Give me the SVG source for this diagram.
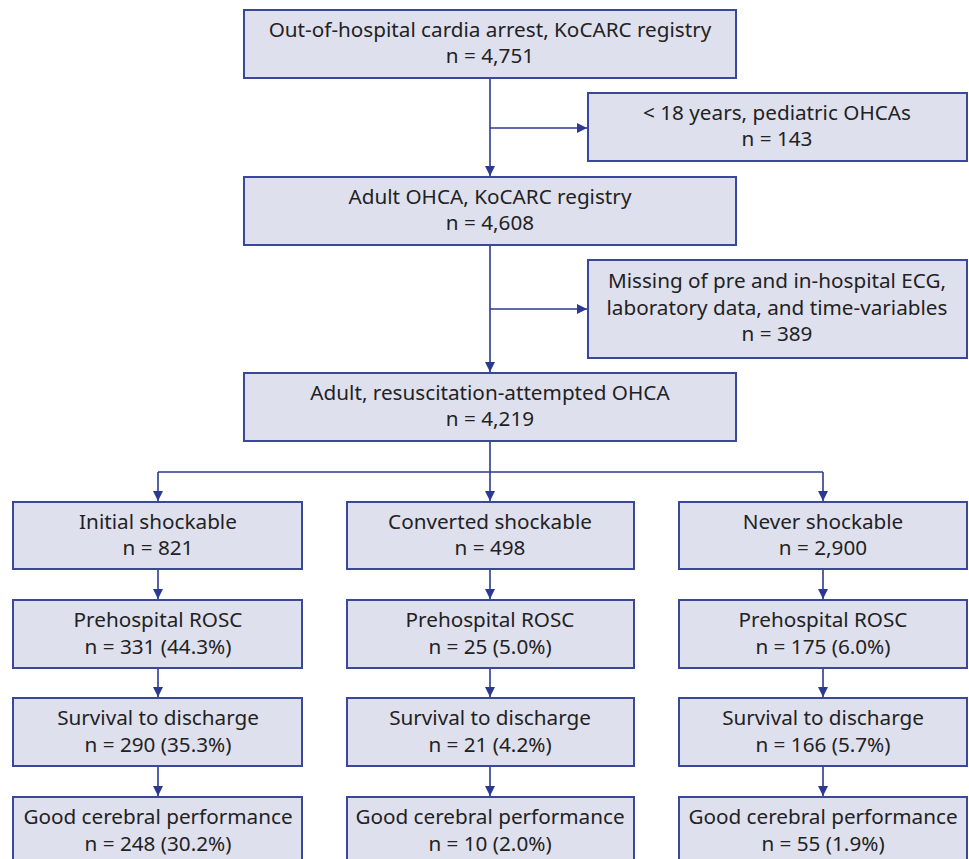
<svg xmlns="http://www.w3.org/2000/svg" width="969" height="859" viewBox="0 0 969 859">
<defs>
<marker id="ah" markerWidth="10" markerHeight="10" refX="10" refY="5" orient="auto" markerUnits="userSpaceOnUse">
<path d="M0,0 L10,5 L0,10 Z" fill="#2b3990"/>
</marker>
<style>
.box{fill:#dfe0ee;stroke:#3b479b;stroke-width:2}
.t{font-family:"Noto Sans","Liberation Sans",sans-serif;font-size:20.7px;fill:#222;text-anchor:middle}
.c{fill:none;stroke:#2b3990;stroke-width:1.6}
</style>
</defs>
<rect width="969" height="859" fill="#fff"/>
<g id="connectors">
<path class="c" d="M490,78 V176" marker-end="url(#ah)"/>
<path class="c" d="M490,128 H587" marker-end="url(#ah)"/>
<path class="c" d="M490,245 V372" marker-end="url(#ah)"/>
<path class="c" d="M490,309 H587" marker-end="url(#ah)"/>
<path class="c" d="M490,441 V501" marker-end="url(#ah)"/>
<path class="c" d="M158,472 H823"/>
<path class="c" d="M158,472 V501" marker-end="url(#ah)"/>
<path class="c" d="M823,472 V501" marker-end="url(#ah)"/>
<path class="c" d="M158,569 V599" marker-end="url(#ah)"/>
<path class="c" d="M490,569 V599" marker-end="url(#ah)"/>
<path class="c" d="M823,569 V599" marker-end="url(#ah)"/>
<path class="c" d="M158,668 V697" marker-end="url(#ah)"/>
<path class="c" d="M490,668 V697" marker-end="url(#ah)"/>
<path class="c" d="M823,668 V697" marker-end="url(#ah)"/>
<path class="c" d="M158,766 V796" marker-end="url(#ah)"/>
<path class="c" d="M490,766 V796" marker-end="url(#ah)"/>
<path class="c" d="M823,766 V796" marker-end="url(#ah)"/>
</g>
<g id="n-all">
<rect class="box" x="244" y="10" width="492" height="68"/>
<text class="t" x="490" y="37">Out-of-hospital cardia arrest, KoCARC registry</text>
<text class="t" x="490" y="63">n = 4,751</text>
</g>
<g id="n-pediatric">
<rect class="box" x="588" y="93" width="379" height="68"/>
<text class="t" x="777" y="120">&lt; 18 years, pediatric OHCAs</text>
<text class="t" x="777" y="146">n = 143</text>
</g>
<g id="n-adult">
<rect class="box" x="244" y="177" width="492" height="68"/>
<text class="t" x="490" y="204">Adult OHCA, KoCARC registry</text>
<text class="t" x="490" y="230">n = 4,608</text>
</g>
<g id="n-missing">
<rect class="box" x="588" y="260" width="379" height="98"/>
<text class="t" x="777" y="288">Missing of pre and in-hospital ECG,</text>
<text class="t" x="777" y="315">laboratory data, and time-variables</text>
<text class="t" x="777" y="341">n = 389</text>
</g>
<g id="n-resus">
<rect class="box" x="244" y="373" width="492" height="68"/>
<text class="t" x="490" y="400">Adult, resuscitation-attempted OHCA</text>
<text class="t" x="490" y="426">n = 4,219</text>
</g>
<g id="n-initial">
<rect class="box" x="13" y="502" width="289" height="67"/>
<text class="t" x="158" y="529">Initial shockable</text>
<text class="t" x="158" y="555">n = 821</text>
</g>
<g id="n-converted">
<rect class="box" x="347" y="502" width="287" height="67"/>
<text class="t" x="490" y="529">Converted shockable</text>
<text class="t" x="490" y="555">n = 498</text>
</g>
<g id="n-never">
<rect class="box" x="679" y="502" width="288" height="67"/>
<text class="t" x="823" y="529">Never shockable</text>
<text class="t" x="823" y="555">n = 2,900</text>
</g>
<g id="n-rosc1">
<rect class="box" x="13" y="600" width="289" height="68"/>
<text class="t" x="158" y="627">Prehospital ROSC</text>
<text class="t" x="158" y="654">n = 331 (44.3%)</text>
</g>
<g id="n-rosc2">
<rect class="box" x="347" y="600" width="287" height="68"/>
<text class="t" x="490" y="627">Prehospital ROSC</text>
<text class="t" x="490" y="654">n = 25 (5.0%)</text>
</g>
<g id="n-rosc3">
<rect class="box" x="679" y="600" width="288" height="68"/>
<text class="t" x="823" y="627">Prehospital ROSC</text>
<text class="t" x="823" y="654">n = 175 (6.0%)</text>
</g>
<g id="n-surv1">
<rect class="box" x="13" y="698" width="289" height="68"/>
<text class="t" x="158" y="725">Survival to discharge</text>
<text class="t" x="158" y="752">n = 290 (35.3%)</text>
</g>
<g id="n-surv2">
<rect class="box" x="347" y="698" width="287" height="68"/>
<text class="t" x="490" y="725">Survival to discharge</text>
<text class="t" x="490" y="752">n = 21 (4.2%)</text>
</g>
<g id="n-surv3">
<rect class="box" x="679" y="698" width="288" height="68"/>
<text class="t" x="823" y="725">Survival to discharge</text>
<text class="t" x="823" y="752">n = 166 (5.7%)</text>
</g>
<g id="n-good1">
<rect class="box" x="13" y="797" width="289" height="68"/>
<text class="t" x="158" y="824">Good cerebral performance</text>
<text class="t" x="158" y="851">n = 248 (30.2%)</text>
</g>
<g id="n-good2">
<rect class="box" x="347" y="797" width="287" height="68"/>
<text class="t" x="490" y="824">Good cerebral performance</text>
<text class="t" x="490" y="851">n = 10 (2.0%)</text>
</g>
<g id="n-good3">
<rect class="box" x="679" y="797" width="288" height="68"/>
<text class="t" x="823" y="824">Good cerebral performance</text>
<text class="t" x="823" y="851">n = 55 (1.9%)</text>
</g>
</svg>
